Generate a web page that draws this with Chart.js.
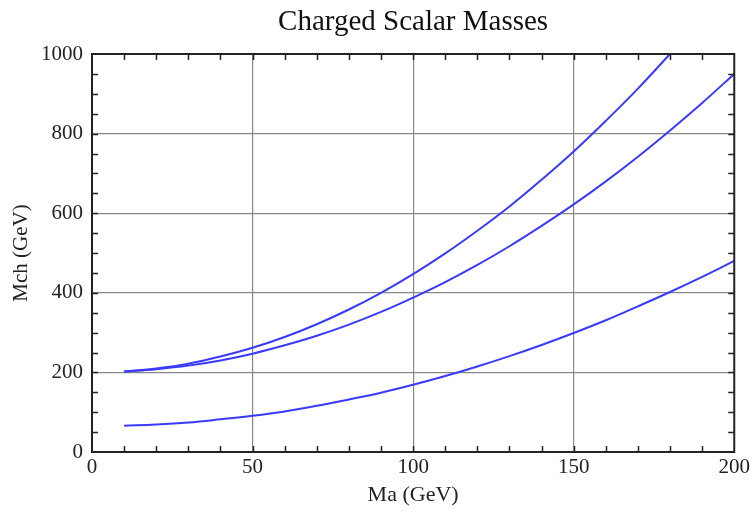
<!DOCTYPE html>
<html>
<head>
<meta charset="utf-8">
<script src="https://cdn.jsdelivr.net/npm/chart.js@4"></script>
<style>
  html, body { margin: 0; padding: 0; background: #fff; }
  #wrap { width: 753px; height: 513px; }
</style>
</head>
<body>
<div id="wrap"><canvas id="massChart"></canvas></div>
<script>
// values
const maValues = [10, 20, 30, 40, 50, 60, 70, 80, 90, 100, 110, 120, 130, 140, 150, 160, 170, 180, 190, 200];
const upperMch = [202, 210, 222, 240, 262, 289, 321, 358, 400, 447, 499, 556, 617, 684, 755, 832, 913, 1000];
const middleMch = [202, 208, 217, 230, 247, 268, 292, 320, 352, 388, 427, 470, 517, 568, 622, 680, 742, 808, 877, 950];
const lowerMch = [66, 69, 74, 82, 91, 102, 116, 132, 149, 169, 191, 215, 241, 269, 299, 331, 366, 402, 440, 480];
const xTicks = [0, 50, 100, 150, 200];
const yTicks = [0, 200, 400, 600, 800, 1000];

function toPoints(ys) {
  return ys.map((y, i) => ({ x: maValues[i], y: y }));
}

const lineColor = '#3a3aff';
const serif = "'Liberation Serif', 'DejaVu Serif', serif";

// frame + small inward ticks, like the original plot
const framePlugin = {
  id: 'frame',
  afterDraw(chart) {
    const { ctx, chartArea: a, scales } = chart;
    ctx.save();
    ctx.strokeStyle = '#222';
    ctx.lineWidth = 1.5;
    for (let v = 10; v < 200; v += 10) {
      const px = Math.round(scales.x.getPixelForValue(v)) + 0.5;
      ctx.beginPath();
      ctx.moveTo(px, a.bottom); ctx.lineTo(px, a.bottom - 6);
      ctx.moveTo(px, a.top); ctx.lineTo(px, a.top + 6);
      ctx.stroke();
    }
    for (let v = 50; v < 1000; v += 50) {
      const py = Math.round(scales.y.getPixelForValue(v)) + 0.5;
      ctx.beginPath();
      ctx.moveTo(a.left, py); ctx.lineTo(a.left + 6, py);
      ctx.moveTo(a.right, py); ctx.lineTo(a.right - 6, py);
      ctx.stroke();
    }
    ctx.lineWidth = 2;
    ctx.strokeRect(a.left, a.top, a.right - a.left, a.bottom - a.top);
    ctx.restore();
  }
};

const ctxMass = document.getElementById('massChart').getContext('2d');
new Chart(ctxMass, {
  type: 'scatter',
  data: {
    datasets: [
      { label: 'upper', data: toPoints(upperMch) },
      { label: 'middle', data: toPoints(middleMch) },
      { label: 'lower', data: toPoints(lowerMch) }
    ].map(ds => Object.assign(ds, {
      showLine: true,
      borderColor: lineColor,
      borderWidth: 2,
      pointRadius: 0,
      tension: 0.4,
      clip: 2
    }))
  },
  plugins: [framePlugin],
  options: {
    responsive: true,
    maintainAspectRatio: false,
    animation: false,
    layout: { padding: { left: 0, right: 18, top: 0, bottom: 0 } },
    plugins: {
      legend: { display: false },
      tooltip: { enabled: false },
      title: {
        display: true,
        fullSize: false,
        text: 'Charged Scalar Masses',
        color: '#111',
        font: { family: serif, size: 29, weight: 'normal' },
        padding: { top: 5, bottom: 14.2 }
      }
    },
    scales: {
      x: {
        type: 'linear',
        min: 0,
        max: 200,
        afterBuildTicks: axis => { axis.ticks = xTicks.map(v => ({ value: v })); },
        afterFit: axis => { axis.height = 61; },
        grid: {
          color: c => (c.tick && (c.tick.value === 0 || c.tick.value === 200)) ? 'rgba(0,0,0,0)' : '#888',
          lineWidth: 1.2,
          drawTicks: false
        },
        border: { display: false },
        ticks: { color: '#222', padding: 3, font: { family: serif, size: 21 }, maxRotation: 0 },
        title: {
          display: true,
          text: 'Ma (GeV)',
          color: '#222',
          font: { family: serif, size: 22 },
          padding: { top: 0, bottom: 5 }
        }
      },
      y: {
        type: 'linear',
        min: 0,
        max: 1000,
        afterBuildTicks: axis => { axis.ticks = yTicks.map(v => ({ value: v })); },
        afterFit: axis => { axis.width = 92; },
        grid: {
          color: c => (c.tick && (c.tick.value === 0 || c.tick.value === 1000)) ? 'rgba(0,0,0,0)' : '#888',
          lineWidth: 1.2,
          drawTicks: false
        },
        border: { display: false },
        ticks: {
          color: '#222',
          padding: 9,
          font: { family: serif, size: 21 },
          callback: v => String(v)
        },
        title: {
          display: true,
          text: 'Mch (GeV)',
          color: '#222',
          font: { family: serif, size: 21 },
          padding: { top: 9, bottom: 0 }
        }
      }
    }
  }
});
</script>
</body>
</html>
